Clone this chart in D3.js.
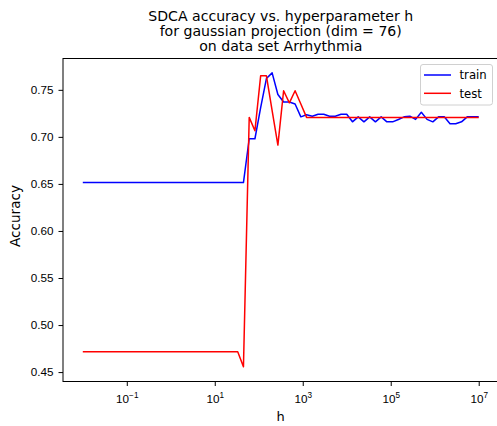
<!DOCTYPE html>
<html>
<head>
  <meta charset="utf-8">
  <title>SDCA accuracy vs h</title>
  <script src="https://cdn.jsdelivr.net/npm/d3@7/dist/d3.min.js"></script>
  <style>
    body { margin: 0; background: #fff; }
    svg { display: block; font-family: "DejaVu Sans", sans-serif; }
    svg text { fill: #000; }
    .tick text { font-size: 11.7px; }
    .axis path, .axis line { stroke: #000; }
  </style>
</head>
<body>
<svg width="497" height="426"></svg>
<script>

// log10 of h for each run
var hExp = [-2.000, -1.870, -1.739, -1.609, -1.478, -1.348, -1.217, -1.087, -0.957, -0.826,
  -0.696, -0.565, -0.435, -0.304, -0.174, -0.043, 0.087, 0.217, 0.348, 0.478,
  0.609, 0.739, 0.870, 1.000, 1.130, 1.261, 1.391, 1.522, 1.652, 1.783,
  1.913, 2.043, 2.174, 2.304, 2.435, 2.565, 2.696, 2.826, 2.957, 3.087,
  3.217, 3.348, 3.478, 3.609, 3.739, 3.870, 4.000, 4.130, 4.261, 4.391,
  4.522, 4.652, 4.783, 4.913, 5.043, 5.174, 5.304, 5.435, 5.565, 5.696,
  5.826, 5.957, 6.087, 6.217, 6.348, 6.478, 6.609, 6.739, 6.870, 7.000];

var train = [0.6514, 0.6514, 0.6514, 0.6514, 0.6514, 0.6514, 0.6514, 0.6514, 0.6514, 0.6514,
  0.6514, 0.6514, 0.6514, 0.6514, 0.6514, 0.6514, 0.6514, 0.6514, 0.6514, 0.6514,
  0.6514, 0.6514, 0.6514, 0.6514, 0.6514, 0.6514, 0.6514, 0.6514, 0.6514, 0.698,
  0.698, 0.731, 0.762, 0.768, 0.745, 0.737, 0.737, 0.735, 0.7213, 0.7235,
  0.722, 0.724, 0.724, 0.722, 0.722, 0.724, 0.724, 0.716, 0.7213, 0.716,
  0.7213, 0.716, 0.7213, 0.716, 0.716, 0.7185, 0.7213, 0.722, 0.7186, 0.7262,
  0.7186, 0.716, 0.7213, 0.7213, 0.7139, 0.7139, 0.716, 0.7213, 0.7213, 0.7213];

var test = [0.4716, 0.4716, 0.4716, 0.4716, 0.4716, 0.4716, 0.4716, 0.4716, 0.4716, 0.4716,
  0.4716, 0.4716, 0.4716, 0.4716, 0.4716, 0.4716, 0.4716, 0.4716, 0.4716, 0.4716,
  0.4716, 0.4716, 0.4716, 0.4716, 0.4716, 0.4716, 0.4716, 0.4716, 0.4556, 0.7207,
  0.7065, 0.7649, 0.7649, 0.728, 0.6913, 0.749, 0.7362, 0.749, 0.735, 0.7207,
  0.7207, 0.7207, 0.7207, 0.7207, 0.7207, 0.7207, 0.7207, 0.7207, 0.7207, 0.7207,
  0.7207, 0.7207, 0.7207, 0.7207, 0.7207, 0.7207, 0.7207, 0.7207, 0.7207, 0.7207,
  0.7207, 0.7207, 0.7207, 0.7207, 0.7207, 0.7207, 0.7207, 0.7207, 0.7207, 0.7207];

var xTickExp = [-1, 1, 3, 5, 7];
var yTicks = [0.45, 0.50, 0.55, 0.60, 0.65, 0.70, 0.75];

var series = [
  {name: "train", color: "#0000ff", values: train},
  {name: "test", color: "#ff0000", values: test}
];

var titleLines = ["SDCA accuracy vs. hyperparameter h",
  "for gaussian projection (dim = 76)",
  "on data set Arrhythmia"];

var svg = d3.select("svg"),
    m = {left: 63, right: 498.5, top: 58.5, bottom: 381.5};

var x = d3.scaleLog().domain([Math.pow(10, -2.45), Math.pow(10, 7.45)]).range([m.left, m.right]),
    y = d3.scaleLinear().domain([0.44, 0.7833]).range([m.bottom, m.top]);

// lines
var line = d3.line()
    .x(function(d, i) { return x(Math.pow(10, hExp[i])); })
    .y(function(d) { return y(d); });

svg.append("g").selectAll("path")
  .data(series)
  .enter().append("path")
    .attr("d", function(s) { return line(s.values); })
    .attr("fill", "none")
    .attr("stroke", function(s) { return s.color; })
    .attr("stroke-width", 1.5)
    .attr("stroke-linejoin", "round");

// axes
var xAxis = svg.append("g")
    .attr("class", "axis")
    .attr("transform", "translate(0," + m.bottom + ")")
    .call(d3.axisBottom(x)
      .tickValues(xTickExp.map(function(e) { return Math.pow(10, e); }))
      .tickSize(4.5)
      .tickFormat(""));
xAxis.select(".domain").remove();

xAxis.selectAll(".tick").append("text")
    .attr("y", 21)
    .attr("text-anchor", "middle")
    .each(function(d, i) {
      var t = d3.select(this);
      t.append("tspan").text("10");
      t.append("tspan").attr("dy", -4.8).style("font-size", "8.2px")
        .text(xTickExp[i] < 0 ? "\u2212" + Math.abs(xTickExp[i]) : xTickExp[i]);
    });

var yAxis = svg.append("g")
    .attr("class", "axis")
    .attr("transform", "translate(" + m.left + ",0)")
    .call(d3.axisLeft(y).tickValues(yTicks).tickSize(4.5).tickPadding(5)
      .tickFormat(d3.format(".2f")));
yAxis.select(".domain").remove();

// frame
svg.append("rect")
    .attr("x", m.left).attr("y", m.top)
    .attr("width", m.right - m.left).attr("height", m.bottom - m.top)
    .attr("fill", "none").attr("stroke", "#000").attr("stroke-width", 1);

// labels
svg.append("text")
    .attr("x", 280.7).attr("y", 420.7)
    .attr("text-anchor", "middle").style("font-size", "13px")
    .text("h");

svg.append("text")
    .attr("transform", "translate(20,216) rotate(-90)")
    .attr("text-anchor", "middle").style("font-size", "13.6px")
    .text("Accuracy");

svg.append("g").selectAll("text")
  .data(titleLines)
  .enter().append("text")
    .attr("x", (m.left + m.right) / 2)
    .attr("y", function(d, i) { return 20.7 + i * 15.2; })
    .attr("text-anchor", "middle")
    .style("font-size", "14.1px")
    .text(function(d) { return d; });

// legend
var legend = svg.append("g");
legend.append("rect")
    .attr("x", 420.5).attr("y", 64.5).attr("width", 72).attr("height", 40.5)
    .attr("rx", 2.5)
    .attr("fill", "#fff").attr("fill-opacity", 0.8)
    .attr("stroke", "#d0d0d0").attr("stroke-width", 1);

var item = legend.selectAll(".item")
  .data(series)
  .enter().append("g")
    .attr("transform", function(d, i) { return "translate(0," + (75 + i * 18.3) + ")"; });
item.append("line")
    .attr("x1", 424).attr("x2", 451)
    .attr("stroke", function(d) { return d.color; })
    .attr("stroke-width", 1.5);
item.append("text")
    .attr("x", 459.5).attr("y", 4.2)
    .style("font-size", "11.7px")
    .text(function(d) { return d.name; });

</script>
</body>
</html>
